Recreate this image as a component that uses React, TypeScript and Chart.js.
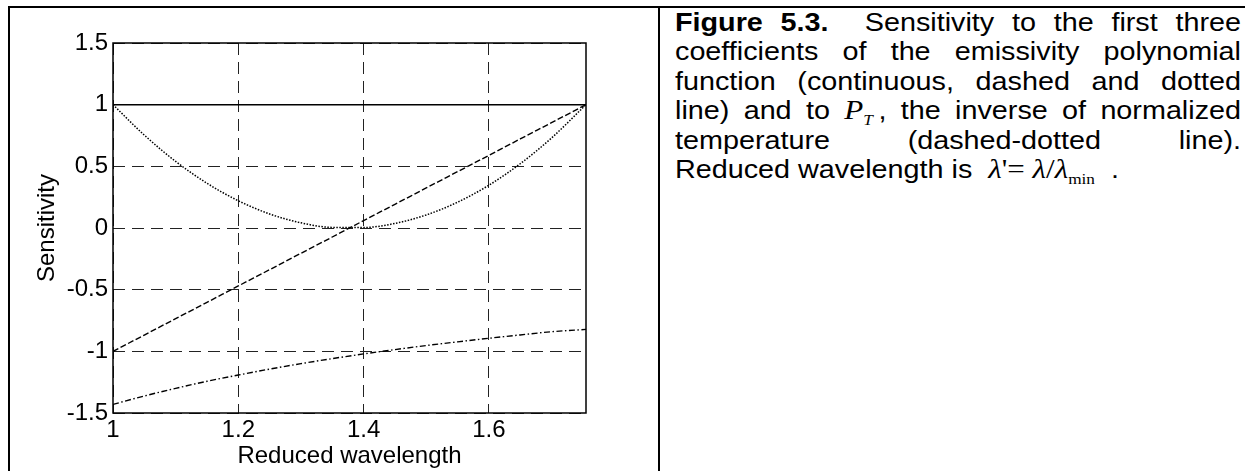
import React, { useEffect, useRef } from "react";
import { Chart, registerables } from "chart.js";

Chart.register(...registerables);

// Reduced wavelength samples (λ / λmin)
const WAVELENGTH = [1.0, 1.05, 1.1, 1.15, 1.2, 1.25, 1.3, 1.35, 1.4, 1.45, 1.5, 1.55, 1.6, 1.65, 1.7, 1.755];

// Sensitivity to the first coefficient (continuous line)
const COEFF_1 = [1, 1, 1, 1, 1, 1, 1, 1, 1, 1, 1, 1, 1, 1, 1, 1];
// Sensitivity to the second coefficient (dashed line)
const COEFF_2 = [-1, -0.868, -0.735, -0.603, -0.47, -0.338, -0.205, -0.073, 0.06, 0.192, 0.325, 0.457, 0.589, 0.722, 0.854, 1];
// Sensitivity to the third coefficient (dotted line)
const COEFF_3 = [1, 0.753, 0.54, 0.363, 0.221, 0.114, 0.042, 0.005, 0.004, 0.037, 0.106, 0.209, 0.347, 0.521, 0.73, 1];
// Sensitivity to P_T, inverse of normalized temperature (dashed-dotted line)
const INV_TEMP = [-1.43, -1.362, -1.3, -1.243, -1.192, -1.144, -1.1, -1.059, -1.021, -0.986, -0.953, -0.923, -0.894, -0.867, -0.841, -0.822];

const X_TICKS = [1, 1.2, 1.4, 1.6];
const Y_TICKS = [-1.5, -1, -0.5, 0, 0.5, 1, 1.5];
const X_MIN = 1;
const X_MAX = 1.755;

const SANS = "'Liberation Sans', Arial, Helvetica, sans-serif";
const SERIF = "'Liberation Serif', 'Times New Roman', serif";

const boxPlugin = {
  id: "plotBox",
  afterDraw(chart: any) {
    const { ctx, chartArea } = chart;
    ctx.save();
    ctx.strokeStyle = "#000";
    ctx.lineWidth = 1.5;
    ctx.setLineDash([]);
    ctx.strokeRect(chartArea.left, chartArea.top, chartArea.right - chartArea.left, chartArea.bottom - chartArea.top);
    ctx.restore();
  },
};

function SensitivityChart() {
  const canvasRef = useRef<HTMLCanvasElement>(null);

  useEffect(() => {
    const canvas = canvasRef.current;
    if (!canvas) return;
    const points = (ys: number[]) => WAVELENGTH.map((x, i) => ({ x, y: ys[i] }));
    const series = (label: string, ys: number[], dash: number[], width: number) => ({
      label,
      data: points(ys),
      borderColor: "#000",
      borderWidth: width,
      borderDash: dash,
      pointRadius: 0,
      fill: false,
      cubicInterpolationMode: "monotone" as const,
    });
    const font = { family: SANS, size: 24 };
    const chart = new Chart(canvas, {
      type: "line",
      data: {
        datasets: [
          series("a1", COEFF_1, [], 1.5),
          series("a2", COEFF_2, [6, 2.5], 1.4),
          series("a3", COEFF_3, [1.5, 1.5], 1.5),
          series("PT", INV_TEMP, [6, 2.5, 1.5, 2.5], 1.4),
        ],
      },
      options: {
        animation: false,
        responsive: false,
        devicePixelRatio: 1,
        layout: { padding: { left: 23, right: 72, top: 35, bottom: 0 } },
        plugins: { legend: { display: false }, tooltip: { enabled: false } },
        scales: {
          x: {
            type: "linear",
            min: X_MIN,
            max: X_MAX,
            afterBuildTicks: (s: any) => {
              s.ticks = X_TICKS.map((v) => ({ value: v }));
            },
            afterFit: (s: any) => {
              s.height = 58;
            },
            ticks: { font, color: "#000", padding: 3, maxRotation: 0, autoSkip: false, callback: (v: any) => String(v) },
            grid: { color: "#222", lineWidth: 1, drawTicks: false },
            border: { display: false, dash: [12, 7] },
            title: { display: true, text: "Reduced wavelength", font, color: "#000", padding: { top: 0, bottom: 0 } },
          },
          y: {
            type: "linear",
            min: -1.5,
            max: 1.5,
            afterBuildTicks: (s: any) => {
              s.ticks = Y_TICKS.map((v) => ({ value: v }));
            },
            afterFit: (s: any) => {
              s.width = 80;
            },
            ticks: { font, color: "#000", padding: 5, autoSkip: false, callback: (v: any) => String(v) },
            grid: { color: "#222", lineWidth: 1, drawTicks: false },
            border: { display: false, dash: [12, 7] },
            title: { display: true, text: "Sensitivity", font, color: "#000", padding: { top: 0, bottom: 0 } },
          },
        },
      },
      plugins: [boxPlugin],
    } as any);
    return () => chart.destroy();
  }, []);

  return <canvas ref={canvasRef} width={648} height={463} style={{ position: "absolute", left: 10, top: 8 }} />;
}

const lineBase: React.CSSProperties = {
  height: 29.4,
  lineHeight: "29.4px",
  textAlign: "justify",
  textAlignLast: "justify",
  whiteSpace: "nowrap",
};

// Caption set in a slightly wide face: 25px type stretched horizontally
const STRETCH = 1.15;
const CAPTION_WIDTH = 566;

function Caption() {
  const ital: React.CSSProperties = { fontFamily: SERIF, fontStyle: "italic", fontSize: 27 };
  return (
    <div
      style={{
        position: "absolute",
        left: 675,
        top: 8,
        width: CAPTION_WIDTH / STRETCH,
        transform: `scaleX(${STRETCH})`,
        transformOrigin: "left top",
        fontFamily: SANS,
        fontSize: 25,
        color: "#000",
      }}
    >
      <div style={lineBase}>
        <b>Figure 5.3.</b>
        <span style={{ display: "inline-block", width: 16 }} /> Sensitivity to the first three
      </div>
      <div style={lineBase}>coefficients of the emissivity polynomial</div>
      <div style={lineBase}>function (continuous, dashed and dotted</div>
      <div style={lineBase}>
        line) and to <span style={ital}>P</span>
        <span style={{ ...ital, fontSize: 15, position: "relative", top: 6, marginRight: 5 }}>T</span>, the inverse of normalized
      </div>
      <div style={lineBase}>temperature (dashed-dotted line).</div>
      <div style={{ ...lineBase, textAlignLast: "left" }}>
        Reduced wavelength is&nbsp; <span style={ital}>λ</span>
        <span style={{ fontFamily: SERIF, fontSize: 27 }}>'= </span>
        <span style={ital}>λ</span>
        <span style={{ fontFamily: SERIF, fontSize: 27 }}>/</span>
        <span style={ital}>λ</span>
        <span style={{ fontFamily: SERIF, fontSize: 15, position: "relative", top: 6 }}>min</span>&nbsp; .
      </div>
    </div>
  );
}

export default function App() {
  return (
    <div style={{ position: "fixed", left: 0, top: 0, width: 1245, height: 471, background: "#fff", overflow: "hidden" }}>
      <div style={{ position: "absolute", left: 8, top: 6, width: 1237, height: 2, background: "#000" }} />
      <div style={{ position: "absolute", left: 8, top: 6, width: 2, height: 465, background: "#000" }} />
      <div style={{ position: "absolute", left: 658, top: 6, width: 2, height: 465, background: "#000" }} />
      <SensitivityChart />
      <Caption />
    </div>
  );
}
